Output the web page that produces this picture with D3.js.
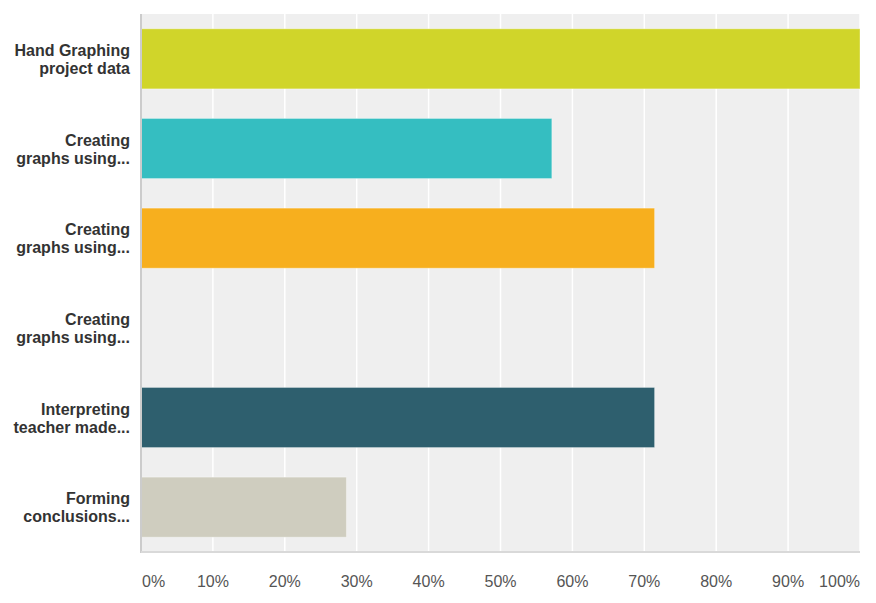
<html>
<head>
<meta charset="utf-8">
<script src="https://d3js.org/d3.v7.min.js"></script>
<style>
  body { margin: 0; background: #fff; font-family: "Liberation Sans", Arial, sans-serif; }
  .cat { font-size: 16px; font-weight: bold; fill: #333; }
  .tick-label { font-size: 16px; fill: #555; }
</style>
</head>
<body>
<svg id="chart" width="876" height="603"></svg>
<script>
// answer choices (two lines each, as they show on the chart)
var categories = [
  ["Hand Graphing", "project data"],
  ["Creating", "graphs using..."],
  ["Creating", "graphs using..."],
  ["Creating", "graphs using..."],
  ["Interpreting", "teacher made..."],
  ["Forming", "conclusions..."]
];
var values = [100, 57.14, 71.43, 0, 71.43, 28.57];
var colors = ["#d0d52a", "#35bec1", "#f7af1e", "#a3a3a3", "#2e5f6e", "#cfcdbf"];
var ticks = [0, 10, 20, 30, 40, 50, 60, 70, 80, 90, 100];

var svg = d3.select("#chart");
var pLeft = 141, pRight = 860, pTop = 14, pBottom = 552;

var x = d3.scaleLinear().domain([0, 100]).range([pLeft, pRight]);
var y = d3.scaleBand()
    .domain(d3.range(categories.length))
    .range([pTop, pBottom])
    .paddingInner(0.33)
    .paddingOuter(0.165);

// plot background
svg.append("rect")
    .attr("x", pLeft).attr("y", pTop)
    .attr("width", pRight - pLeft).attr("height", pBottom - pTop)
    .style("fill", "#efefef");

// vertical grid
svg.selectAll(".grid").data(ticks.slice(1))
  .enter().append("line")
    .attr("x1", function (d) { return x(d); })
    .attr("x2", function (d) { return x(d); })
    .attr("y1", pTop).attr("y2", pBottom)
    .style("stroke", "#fff").style("stroke-width", 1.5);

// bars
svg.selectAll(".bar").data(values)
  .enter().append("rect")
    .attr("x", pLeft)
    .attr("y", function (d, i) { return y(i); })
    .attr("width", function (d) { return x(d) - pLeft; })
    .attr("height", y.bandwidth())
    .style("fill", function (d, i) { return colors[i]; })
    .style("stroke", function (d) { return d > 0 ? "rgba(255,255,255,0.35)" : "none"; })
    .style("stroke-width", 1);

// axis lines
svg.append("line")
    .attr("x1", pLeft).attr("x2", pLeft).attr("y1", pTop).attr("y2", pBottom + 1)
    .style("stroke", "#ccc").style("stroke-width", 2);
svg.append("line")
    .attr("x1", pLeft).attr("x2", pRight).attr("y1", pBottom).attr("y2", pBottom)
    .style("stroke", "#d9d9d9").style("stroke-width", 2);

// category labels
var lab = svg.selectAll(".cat").data(categories)
  .enter().append("text")
    .attr("class", "cat")
    .attr("text-anchor", "end");
lab.each(function (d, i) {
  var c = y(i) + y.bandwidth() / 2;
  var t = d3.select(this);
  d.forEach(function (line, j) {
    t.append("tspan").attr("x", 130).attr("y", c - 3 + j * 18).text(line);
  });
});

// x tick labels
svg.selectAll(".tick-label").data(ticks)
  .enter().append("text")
    .attr("class", "tick-label")
    .attr("x", function (d) { return d === 0 ? pLeft + 1 : (d === 100 ? pRight : x(d)); })
    .attr("y", 587)
    .attr("text-anchor", function (d) { return d === 0 ? "start" : (d === 100 ? "end" : "middle"); })
    .text(function (d) { return d + "%"; });
</script>
</body>
</html>
